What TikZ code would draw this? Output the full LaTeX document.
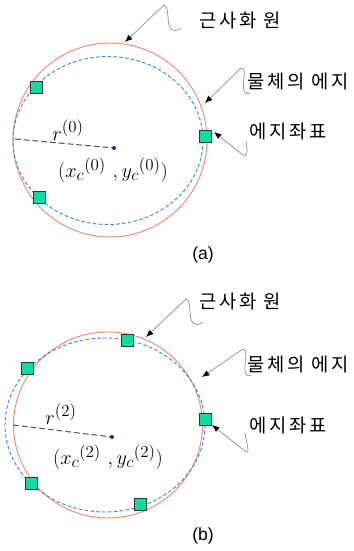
\documentclass[tikz,border=0pt]{standalone}
\usepackage{fontspec}
\setsansfont{Liberation Sans}
\newfontfamily\krfont[LetterSpace=15]{Noto Sans CJK KR}
\usepackage{tikz}
\usetikzlibrary{arrows.meta,positioning,calc}
\definecolor{FitRed}{HTML}{F4876E}
\definecolor{EdgeBlue}{HTML}{3C82F0}
\definecolor{PtGreen}{HTML}{10DCA0}
\definecolor{CtrNavy}{HTML}{262C6E}
\definecolor{CallGray}{HTML}{8C8C8C}
\begin{document}
\begin{tikzpicture}[
  x=0.03cm,y=-0.03cm,
  fitcirc/.style={draw=FitRed,line width=0.8pt},
  edgecirc/.style={draw=EdgeBlue,line width=0.8pt,dash pattern=on 3pt off 2pt},
  edgept/.style={draw=black!80,fill=PtGreen,line width=0.6pt,minimum size=0.36cm,inner sep=0pt},
  ctr/.style={circle,fill=CtrNavy,minimum size=0.12cm,inner sep=0pt},
  rad/.style={draw=black!65,line width=0.9pt,dash pattern=on 5pt off 2.5pt},
  callarr/.style={-{Latex[length=2.2mm,width=1.8mm,color=black]},CallGray,line width=0.6pt},
  kr/.style={font=\krfont\fontsize{16}{19}\selectfont,inner sep=0pt},
  mlbl/.style={font=\fontsize{19}{22}\selectfont,inner sep=0pt},
  caplbl/.style={font=\sffamily\fontsize{15}{17}\selectfont,inner sep=0pt},
]
\useasboundingbox (0,0) rectangle (353,551);

% (a)
\draw[fitcirc] (110,140) circle [radius=97];
\draw[edgecirc] (108,140.5) ellipse [x radius=95, y radius=84];
\node[edgept] (pa1) at (36,87) {};
\node[edgept] (pa2) at (205,136) {};
\node[edgept] (pa3) at (39,197) {};
\node[ctr] (ca) at (114,148) {};
\coordinate (ra) at (15,139);
\draw[rad] (ra) -- (ca);
\node[mlbl] (rlbla) at (68,130) {$r^{(0)}$};
\node[mlbl] (clbla) at (113,170) {$(x_c{}^{(0)}\ ,y_c{}^{(0)})$};
\node[kr] (fita) at (240,20) {근사화 원};
\node[kr,anchor=west] (edgea) at (247,81) {물체의 에지};
\node[kr,anchor=west] (pta) at (249,131) {에지좌표};
\coordinate (ta1) at (125,42);
\coordinate (ta2) at (205,103);
\coordinate (ta3) at (214,132);
\draw[callarr] (181,28) .. controls (162,40) and (172,6) .. (164,5) -- (ta1);
\draw[callarr] (250,93) .. controls (236,98) and (250,66) .. (241,68) -- (ta2);
\draw[callarr] (246,141) .. controls (248,152) and (247,158) .. (243,155) -- (ta3);
\node[caplbl] (capa) at (203,255) {(a)};

% (b)
\draw[fitcirc] (108,425) ellipse [x radius=94.5, y radius=93];
\draw[edgecirc] (105,425) ellipse [x radius=100, y radius=87];
\node[edgept] (pb1) at (127,340) {};
\node[edgept] (pb2) at (27,368) {};
\node[edgept] (pb3) at (205,419) {};
\node[edgept] (pb4) at (31,483) {};
\node[edgept] (pb5) at (140,504) {};
\node[ctr] (cb) at (112,437) {};
\coordinate (rb) at (13,425);
\draw[rad] (rb) -- (cb);
\node[mlbl] (rlblb) at (61,414) {$r^{(2)}$};
\node[mlbl] (clblb) at (108,457) {$(x_c{}^{(2)}\ ,y_c{}^{(2)})$};
\node[kr] (fitb) at (240,301) {근사화 원};
\node[kr,anchor=west] (edgeb) at (247,364) {물체의 에지};
\node[kr,anchor=west] (ptb) at (249,425) {에지좌표};
\coordinate (tb1) at (146,337);
\coordinate (tb2) at (202,377);
\coordinate (tb3) at (212,425);
\draw[callarr] (203,322) .. controls (184,334) and (194,300) .. (186,299) -- (tb1);
\draw[callarr] (251,375) .. controls (238,381) and (251,348) .. (243,349) -- (tb2);
\draw[callarr] (245,433) .. controls (247,444) and (250,455) .. (246,452) -- (tb3);
\node[caplbl] (capb) at (203,536) {(b)};
\end{tikzpicture}
\end{document}
